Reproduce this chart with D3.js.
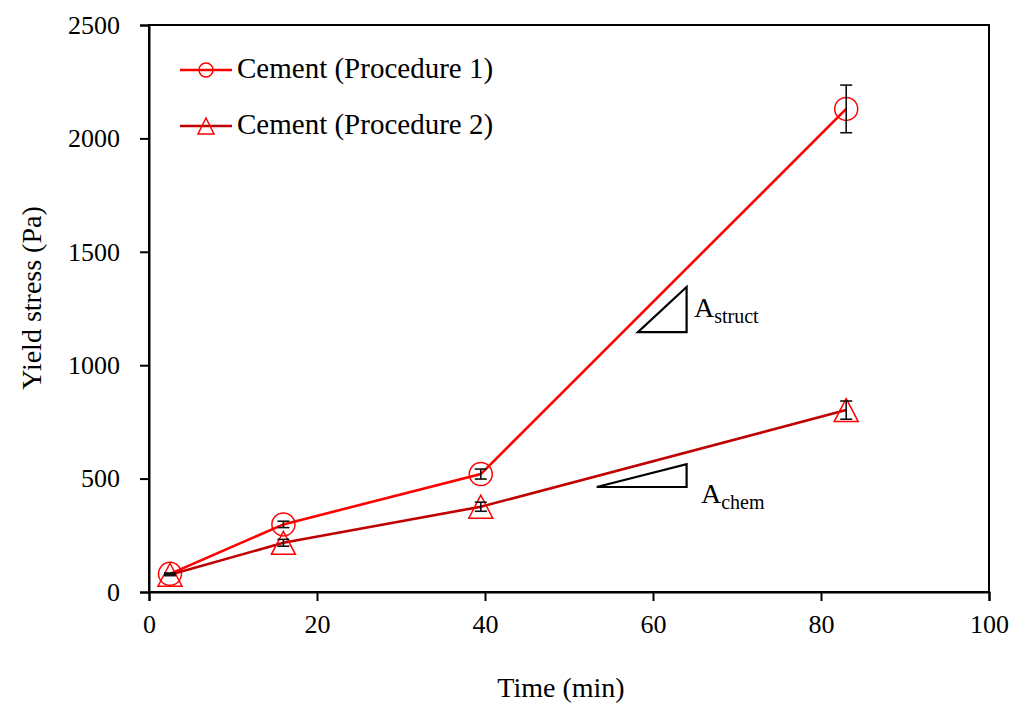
<!DOCTYPE html>
<html>
<head>
<meta charset="utf-8">
<script src="https://cdn.jsdelivr.net/npm/d3@7"></script>
<style>
  html, body { margin: 0; padding: 0; background: #fff; }
  svg text { font-family: "Palatino Linotype", "Book Antiqua", Palatino, "Liberation Serif", serif; fill: #000; }
</style>
</head>
<body>
<svg id="chart" width="1026" height="707"></svg>
<script>
// ---- data ----
const seriesNames = ["Cement (Procedure 1)", "Cement (Procedure 2)"];
const times = [2.5, 16, 39.5, 83];
const proc1 = [80, 298, 520, 2130];
const proc1Err = [4, 14, 22, 105];
const proc2 = [76, 217, 376, 802];
const proc2Err = [4, 15, 20, 40];
const xTicks = [0, 20, 40, 60, 80, 100];
const yTicks = [0, 500, 1000, 1500, 2000, 2500];
const xTitle = "Time (min)";
const yTitle = "Yield stress (Pa)";
// slope-triangle annotations (data units): [x0, x1, yLow, yHigh]
const structTri = [58.2, 64.0, 1146, 1345];
const chemTri = [53.3, 64.0, 463, 564];

// ---- layout ----
const svg = d3.select("#chart");
const m = { left: 149, top: 25, right: 1026 - 989, bottom: 707 - 592 };
const W = 1026 - m.left - m.right, H = 707 - m.top - m.bottom;
const x = d3.scaleLinear().domain([0, 100]).range([m.left, m.left + W]);
const y = d3.scaleLinear().domain([0, 2500]).range([m.top + H, m.top]);

const c1 = "#ff0000", c2 = "#c00000", mk = "#ff0000";

// box
svg.append("rect").attr("x", x(0)).attr("y", y(2500)).attr("width", W).attr("height", H)
  .attr("fill", "none").attr("stroke", "#000").attr("stroke-width", 2);

// axes
const xAxis = d3.axisBottom(x).tickValues(xTicks).tickSize(9).tickPadding(14).tickFormat(d3.format("d"));
const yAxis = d3.axisLeft(y).tickValues(yTicks).tickSize(9).tickPadding(20).tickFormat(d3.format("d"));
const gx = svg.append("g").attr("transform", `translate(0,${y(0)})`).call(xAxis);
const gy = svg.append("g").attr("transform", `translate(${x(0)},0)`).call(yAxis);
[gx, gy].forEach(g => {
  g.select(".domain").attr("stroke", "#000").attr("stroke-width", 2);
  g.selectAll(".tick line").attr("stroke", "#000").attr("stroke-width", 2);
  g.selectAll(".tick text").attr("font-size", 26).attr("font-family", null).attr("fill", "#000");
});
gx.selectAll(".tick text").attr("dy", "0.71em");

// titles
svg.append("text").attr("x", x(50) - 8).attr("y", 697).attr("text-anchor", "middle")
  .attr("font-size", 28).text(xTitle);
svg.append("text").attr("transform", `translate(41,${298}) rotate(-90)`).attr("text-anchor", "middle")
  .attr("font-size", 28).text(yTitle);

// lines
const pts1 = times.map((t, i) => [t, proc1[i], proc1Err[i]]);
const pts2 = times.map((t, i) => [t, proc2[i], proc2Err[i]]);
const line = d3.line().x(d => x(d[0])).y(d => y(d[1]));

const triPath = (cx, cy, hw, hh) => `M${cx},${cy - hh}L${cx + hw},${cy + hh}L${cx - hw},${cy + hh}Z`;

svg.append("path").datum(pts1).attr("d", line).attr("fill", "none").attr("stroke", c1).attr("stroke-width", 2.6);
svg.selectAll(".m1").data(pts1).enter().append("circle")
  .attr("cx", d => x(d[0])).attr("cy", d => y(d[1])).attr("r", 11.5)
  .attr("fill", "none").attr("stroke", mk).attr("stroke-width", 1.5);

svg.append("path").datum(pts2).attr("d", line).attr("fill", "none").attr("stroke", c2).attr("stroke-width", 2.6);
svg.selectAll(".m2").data(pts2).enter().append("path")
  .attr("d", d => triPath(x(d[0]), y(d[1]), 12, 11.5))
  .attr("fill", "none").attr("stroke", mk).attr("stroke-width", 1.5);

// error bars
const errG = svg.append("g").attr("stroke", "#111").attr("stroke-width", 1.6);
[pts1, pts2].forEach(pts => {
  pts.forEach(d => {
    const cx = x(d[0]), yt = y(d[1] + d[2]), yb = y(d[1] - d[2]);
    errG.append("line").attr("x1", cx).attr("x2", cx).attr("y1", yt).attr("y2", yb);
    errG.append("line").attr("x1", cx - 6).attr("x2", cx + 6).attr("y1", yt).attr("y2", yt);
    errG.append("line").attr("x1", cx - 6).attr("x2", cx + 6).attr("y1", yb).attr("y2", yb);
  });
});

// slope triangles
[structTri, chemTri].forEach(t => {
  svg.append("path")
    .attr("d", `M${x(t[0])},${y(t[2])}L${x(t[1])},${y(t[2])}L${x(t[1])},${y(t[3])}Z`)
    .attr("fill", "none").attr("stroke", "#000").attr("stroke-width", 2.2);
});
const lab1 = svg.append("text").attr("x", 694).attr("y", 317).attr("font-size", 28);
lab1.append("tspan").text("A");
lab1.append("tspan").attr("font-size", 20).attr("dy", 6).text("struct");
const lab2 = svg.append("text").attr("x", 701).attr("y", 503).attr("font-size", 28);
lab2.append("tspan").text("A");
lab2.append("tspan").attr("font-size", 20).attr("dy", 6).text("chem");

// legend
const leg = [
  { name: seriesNames[0], color: c1, y: 70, shape: "circle" },
  { name: seriesNames[1], color: c2, y: 126, shape: "tri" }
];
leg.forEach(l => {
  svg.append("line").attr("x1", 180).attr("x2", 232).attr("y1", l.y).attr("y2", l.y)
    .attr("stroke", l.color).attr("stroke-width", 2.6);
  if (l.shape === "circle") {
    svg.append("circle").attr("cx", 206).attr("cy", l.y).attr("r", 7)
      .attr("fill", "none").attr("stroke", mk).attr("stroke-width", 1.5);
  } else {
    svg.append("path").attr("d", triPath(206, l.y, 8, 8))
      .attr("fill", "none").attr("stroke", mk).attr("stroke-width", 1.5);
  }
  svg.append("text").attr("x", 237).attr("y", l.y + 8).attr("font-size", 29).text(l.name);
});
</script>
</body>
</html>
